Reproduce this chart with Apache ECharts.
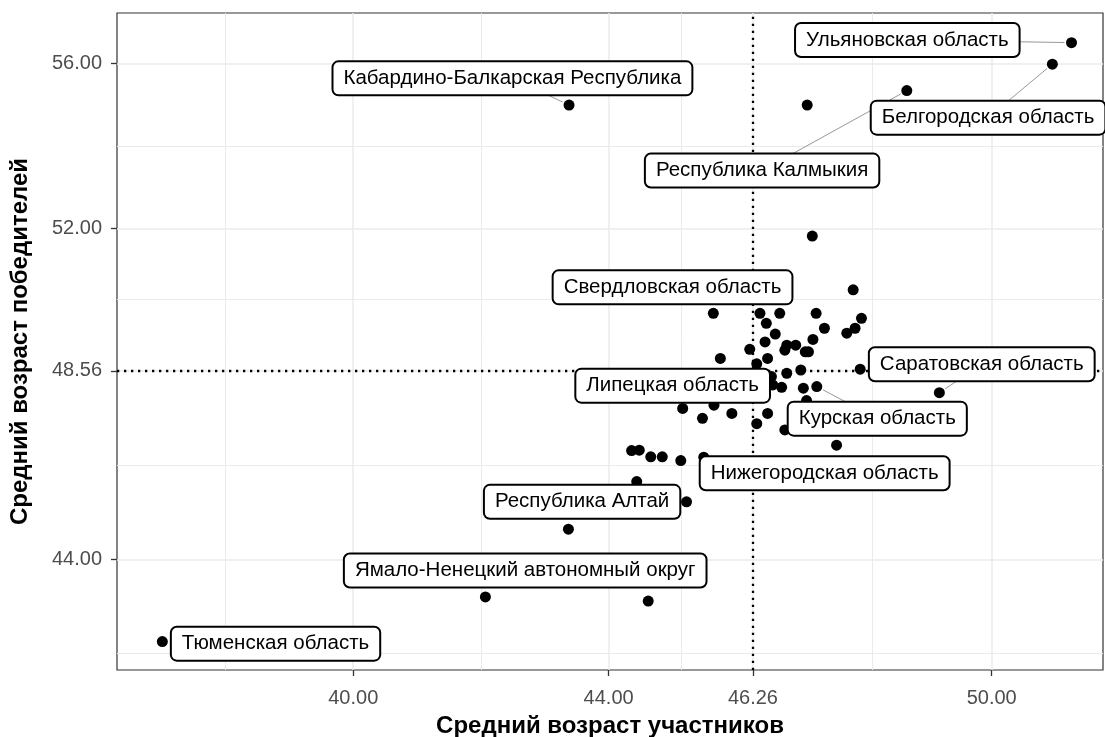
<!DOCTYPE html>
<html>
<head>
<meta charset="utf-8">
<script src="https://cdn.jsdelivr.net/npm/echarts@6/dist/echarts.min.js"></script>
<style>
  html, body { margin: 0; padding: 0; background: #fff; }
  #chart { width: 1105px; height: 737px; }
</style>
</head>
<body>
<div id="chart"></div>
<script>
// ---------- data ----------
const PARTICIPANT_AGE = [
  37.01, 42.07, 44.62, 43.37, 45.22, 44.44, 44.36, 44.48, 44.66, 44.84,
  45.13, 45.49, 45.16, 45.65, 45.47, 45.93, 46.49, 46.32, 46.76, 47.57,
  45.64, 46.37, 46.68, 47.25, 47.83, 47.96, 46.47, 47.38, 47.86, 47.73,
  46.61, 46.45, 47.20, 46.21, 46.79, 46.93, 46.76, 47.08, 47.13, 45.75,
  46.49, 46.32, 46.79, 47.01, 47.94, 46.55, 46.57, 46.71, 47.05, 47.26,
  47.10, 49.18, 43.38, 47.11, 48.67, 51.25, 50.95, 47.19
];
const WINNER_AGE = [
  42.01, 43.09, 42.99, 44.73, 45.39, 45.88, 46.63, 46.64, 46.48, 46.48,
  46.39, 46.47, 47.65, 47.73, 47.41, 47.53, 47.53, 47.28, 47.13, 46.76,
  49.95, 49.95, 49.95, 49.95, 50.52, 49.83, 49.71, 49.59, 49.59, 49.47,
  49.45, 49.26, 49.32, 49.08, 49.18, 49.18, 49.06, 49.02, 49.02, 48.86,
  48.86, 48.73, 48.50, 48.58, 48.60, 48.42, 48.22, 48.16, 48.14, 48.18,
  47.84, 48.03, 54.99, 54.99, 55.34, 56.50, 55.98, 51.82
];
const LABEL_TEXT = [
  'Тюменская область',
  'Ямало-Ненецкий автономный округ',
  'Республика Алтай',
  'Нижегородская область',
  'Свердловская область',
  'Липецкая область',
  'Курская область',
  'Саратовская область',
  'Кабардино-Балкарская Республика',
  'Республика Калмыкия',
  'Ульяновская область',
  'Белгородская область'
];
const LABEL_POINT = [0, 1, 3, 11, 20, 39, 49, 51, 52, 54, 55, 56];
const X_TICKS = [40, 44, 46.26, 50];
const Y_TICKS = [44, 48.56, 52, 56];
const X_MINOR = [38, 42, 45.13, 48.13];
const Y_MINOR = [41.72, 46.28, 50.28, 54];
const MEAN_PARTICIPANT = 46.26;
const MEAN_WINNER = 48.56;

// ---------- layout (pixel offsets of label boxes from their points) ----------
const LABEL_OFFSET = [
  [113.2, 2.1], [39.8, -26.4], [13.7, -27.3], [120.9, 16.0],
  [-40.8, -26.0], [-47.7, 27.2], [60.5, 32.1], [42.4, -28.5],
  [-56.6, -26.7], [-144.7, 80.0], [-164.2, -2.7], [-64.3, 53.5]
];
const LABEL_LEADER = [false, false, false, false, false, false, true, true, true, true, true, true];

const FONT = '"Liberation Sans", Arial, sans-serif';

const chart = echarts.init(document.getElementById('chart'), null, { renderer: 'canvas' });

const points = PARTICIPANT_AGE.map((x, i) => [x, WINNER_AGE[i]]);
const labelData = LABEL_POINT.map((pi, k) => ({ value: [PARTICIPANT_AGE[pi], WINNER_AGE[pi], k] }));

function vLines(vals) { return vals.map(v => ({ xAxis: v })); }
function hLines(vals) { return vals.map(v => ({ yAxis: v })); }

function markLines(data, style, z) {
  return {
    silent: true, symbol: 'none', label: { show: false }, animation: false, z: z,
    lineStyle: style, emphasis: { disabled: true }, data: data
  };
}

const option = {
  animation: false,
  backgroundColor: '#ffffff',
  grid: {
    left: 117, right: 2, top: 13, bottom: 67,
    containLabel: false, outerBoundsMode: 'none',
    show: true, borderColor: '#333333', borderWidth: 1.2, backgroundColor: 'transparent'
  },
  xAxis: {
    type: 'value',
    min: 36.30, max: 51.743,
    axisLine: { show: false },
    axisTick: { show: true, customValues: X_TICKS, length: 6, lineStyle: { color: '#333333', width: 1.3 } },
    axisLabel: { customValues: X_TICKS, formatter: v => v.toFixed(2), color: '#4d4d4d', fontSize: 20, fontFamily: FONT, margin: 18 },
    splitLine: { show: false },
    name: 'Средний возраст участников',
    nameLocation: 'middle', nameGap: 44,
    nameTextStyle: { color: '#000', fontSize: 24, fontWeight: 'bold', fontFamily: FONT }
  },
  yAxis: {
    type: 'value',
    min: 41.322, max: 57.217,
    axisLine: { show: false },
    axisTick: { show: true, customValues: Y_TICKS, length: 6, lineStyle: { color: '#333333', width: 1.3 } },
    axisLabel: { customValues: Y_TICKS, formatter: v => v.toFixed(2), color: '#4d4d4d', fontSize: 20, fontFamily: FONT, margin: 15 },
    splitLine: { show: false },
    name: 'Средний возраст победителей',
    nameLocation: 'middle', nameGap: 85,
    nameTextStyle: { color: '#000', fontSize: 24, fontWeight: 'bold', fontFamily: FONT }
  },
  series: [
    {
      type: 'line', data: [], z: 1, silent: true,
      markLine: markLines(vLines(X_MINOR).concat(hLines(Y_MINOR)), { color: '#ebebeb', width: 1.0, type: 'solid' }, 1)
    },
    {
      type: 'line', data: [], z: 1, silent: true,
      markLine: markLines(vLines(X_TICKS).concat(hLines(Y_TICKS)), { color: '#ebebeb', width: 1.5, type: 'solid' }, 1)
    },
    {
      type: 'line', data: [], z: 2, silent: true,
      markLine: markLines([{ xAxis: MEAN_PARTICIPANT }, { yAxis: MEAN_WINNER }], { color: '#000000', width: 2.3, type: [2.3, 4.7] }, 2)
    },
    {
      type: 'scatter', z: 3, silent: true,
      symbol: 'circle', symbolSize: 11,
      itemStyle: { color: '#000000', opacity: 1 },
      data: points
    },
    {
      type: 'custom', z: 10, silent: true,
      data: labelData,
      renderItem: function (params, api) {
        const k = api.value(2);
        const p = api.coord([api.value(0), api.value(1)]);
        const off = LABEL_OFFSET[k];
        const cx = p[0] + off[0], cy = p[1] + off[1];
        const children = [];
        if (LABEL_LEADER[k]) {
          const len = Math.hypot(off[0], off[1]);
          const r = 7;
          children.push({
            type: 'line',
            shape: { x1: p[0] + off[0] / len * r, y1: p[1] + off[1] / len * r, x2: cx, y2: cy },
            style: { stroke: '#8c8c8c', lineWidth: 0.9 }
          });
        }
        children.push({
          type: 'text',
          x: cx, y: cy,
          style: {
            text: LABEL_TEXT[k],
            fill: '#000000',
            font: '20.5px ' + FONT,
            align: 'center', verticalAlign: 'middle',
            backgroundColor: '#ffffff',
            borderColor: '#000000', borderWidth: 2, borderRadius: 5,
            padding: [5, 10, 5, 10], lineHeight: 22
          }
        });
        return { type: 'group', children: children };
      }
    }
  ]
};
chart.setOption(option);
</script>
</body>
</html>
